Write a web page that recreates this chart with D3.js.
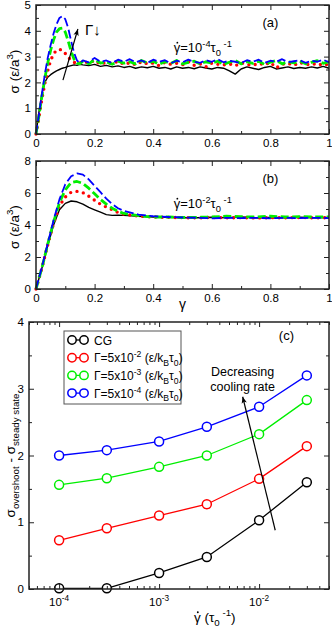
<!DOCTYPE html>
<html>
<head>
<meta charset="utf-8">
<title>Stress overshoot</title>
<script src="https://d3js.org/d3.v7.min.js"></script>
<style>
  body { margin: 0; background: #fff; }
  text { font-family: 'Liberation Sans', Arial, sans-serif; fill: #000; }
</style>
</head>
<body>
<script>
'use strict'
// panel (a): shear rate 1e-4, strain grid and stress curves
const strainA = [0, 0.01, 0.02, 0.03, 0.04, 0.05, 0.06, 0.07, 0.08, 0.09, 0.10, 0.11, 0.12, 0.13, 0.14, 0.15, 0.16,
  0.18, 0.20, 0.22, 0.24, 0.26, 0.28, 0.30, 0.32, 0.34, 0.36, 0.38, 0.40, 0.42, 0.44, 0.46, 0.48, 0.50,
  0.52, 0.54, 0.56, 0.58, 0.60, 0.62, 0.64, 0.66, 0.68, 0.70, 0.72, 0.74, 0.76, 0.78, 0.80, 0.82, 0.84,
  0.86, 0.88, 0.90, 0.92, 0.94, 0.96, 0.98, 1.00]
const cgA = [0, 0.85, 1.55, 2.0, 2.2, 2.3, 2.38, 2.45, 2.5, 2.55, 2.58, 2.62, 2.65, 2.68, 2.66, 2.7, 2.68,
  2.65, 2.7, 2.62, 2.66, 2.6, 2.64, 2.58, 2.62, 2.55, 2.6, 2.57, 2.62, 2.55, 2.58, 2.52, 2.6, 2.55,
  2.58, 2.53, 2.6, 2.56, 2.52, 2.58, 2.55, 2.45, 2.32, 2.52, 2.6, 2.55, 2.5, 2.58, 2.62, 2.52, 2.56,
  2.6, 2.54, 2.58, 2.55, 2.6, 2.56, 2.62, 2.55]
const g2A = [0, 0.65, 1.35, 1.95, 2.45, 2.85, 3.1, 3.25, 3.28, 3.25, 3.12, 2.98, 2.85, 2.78, 2.72, 2.75, 2.82,
  2.75, 2.85, 2.7, 2.78, 2.72, 2.82, 2.7, 2.76, 2.68, 2.8, 2.72, 2.75, 2.65, 2.78, 2.7, 2.74, 2.68,
  2.8, 2.66, 2.72, 2.6, 2.75, 2.7, 2.68, 2.72, 2.64, 2.76, 2.7, 2.66, 2.74, 2.68, 2.78, 2.56, 2.7,
  2.74, 2.66, 2.78, 2.7, 2.68, 2.74, 2.65, 2.72]
const g3A = [0, 0.7, 1.45, 2.15, 2.75, 3.25, 3.65, 3.95, 4.08, 4.1, 3.95, 3.6, 3.2, 2.9, 2.75, 2.72, 2.82,
  2.72, 2.88, 2.75, 2.8, 2.7, 2.82, 2.75, 2.8, 2.72, 2.85, 2.76, 2.82, 2.7, 2.8, 2.74, 2.85, 2.72,
  2.78, 2.82, 2.72, 2.8, 2.75, 2.82, 2.7, 2.78, 2.85, 2.72, 2.8, 2.74, 2.82, 2.7, 2.78, 2.85, 2.72,
  2.8, 2.76, 2.82, 2.72, 2.78, 2.84, 2.74, 2.8]
const g4A = [0, 0.75, 1.55, 2.3, 2.95, 3.45, 3.9, 4.25, 4.5, 4.57, 4.45, 4.1, 3.6, 3.15, 2.85, 2.75, 2.85,
  2.78, 2.95, 2.8, 2.85, 2.75, 2.88, 2.8, 2.9, 2.78, 2.85, 2.75, 2.88, 2.8, 2.86, 2.74, 2.84, 2.78,
  2.88, 2.8, 2.76, 2.86, 2.8, 2.9, 2.78, 2.84, 2.8, 2.75, 2.86, 2.8, 2.88, 2.76, 2.84, 2.8, 2.9,
  2.78, 2.82, 2.86, 2.76, 2.84, 2.8, 2.88, 2.78]

// panel (b): shear rate 1e-2
const strainB = [0, 0.02, 0.04, 0.06, 0.08, 0.10, 0.12, 0.14, 0.16, 0.18, 0.20, 0.22, 0.24, 0.26, 0.28, 0.30,
  0.35, 0.40, 0.45, 0.50, 0.55, 0.60, 0.65, 0.70, 0.75, 0.80, 0.85, 0.90, 0.95, 1.00]
const cgB = [0, 1.3, 2.7, 4.0, 4.95, 5.35, 5.5, 5.45, 5.3, 5.1, 4.95, 4.8, 4.65, 4.6, 4.62, 4.6,
  4.55, 4.5, 4.48, 4.45, 4.45, 4.48, 4.45, 4.5, 4.45, 4.47, 4.45, 4.48, 4.45, 4.47]
const g2B = [0, 1.3, 2.75, 4.1, 5.2, 5.75, 6.05, 6.1, 6.02, 5.8, 5.55, 5.3, 5.12, 4.95, 4.78, 4.68,
  4.55, 4.5, 4.48, 4.46, 4.45, 4.47, 4.45, 4.46, 4.44, 4.46, 4.45, 4.47, 4.45, 4.46]
const g3B = [0, 1.3, 2.8, 4.2, 5.4, 6.2, 6.65, 6.72, 6.6, 6.3, 5.95, 5.6, 5.3, 5.05, 4.85, 4.72,
  4.58, 4.5, 4.5, 4.47, 4.48, 4.5, 4.55, 4.52, 4.5, 4.55, 4.5, 4.52, 4.5, 4.5]
const g4B = [0, 1.35, 2.85, 4.3, 5.6, 6.55, 7.05, 7.22, 7.15, 6.85, 6.45, 6.05, 5.65, 5.3, 5.05, 4.88,
  4.65, 4.55, 4.5, 4.47, 4.45, 4.42, 4.45, 4.43, 4.45, 4.42, 4.45, 4.43, 4.45, 4.43]

// panel (c): overshoot height vs shear rate
const rates = [1e-4, 3e-4, 1e-3, 3e-3, 1e-2, 3e-2]
const overCG = [0.01, 0.01, 0.24, 0.48, 1.03, 1.60]
const over2 = [0.73, 0.91, 1.10, 1.27, 1.65, 2.14]
const over3 = [1.56, 1.66, 1.83, 2.00, 2.32, 2.83]
const over4 = [2.00, 2.08, 2.21, 2.43, 2.73, 3.20]
const legendLabels = ['CG', '5', '5', '5']
const legendExp = ['', '-2', '-3', '-4']
const decades = [1e-4, 1e-3, 1e-2]
const decadeExp = ['-4', '-3', '-2']

// annotation arrows in data units
const arrowA = [[0.092, 2.09], [0.143, 4.07]]
const arrowC = [[0.0145, 0.88], [0.00685, 2.88]]

const colors = ['#000000', '#ff0000', '#00ee00', '#0000ff']

const svg = d3.select('body').append('svg')
  .attr('width', 332)
  .attr('height', 629)

svg.append('rect').attr('width', 332).attr('height', 629).attr('fill', '#fff')

const defs = svg.append('defs')
defs.append('marker')
  .attr('id', 'head')
  .attr('viewBox', '-10 -5 12 10')
  .attr('markerWidth', 10).attr('markerHeight', 10)
  .attr('markerUnits', 'userSpaceOnUse')
  .attr('orient', 'auto')
  .append('path')
  .attr('d', 'M0,0 L-8,-3.2 L-6,0 L-8,3.2 Z')
  .attr('fill', '#000')

/**
 * richText
 * Append tspans with super/subscripts to a text selection.
 */
function richText(sel, parts, size)
{
  let shift = 0
  parts.forEach(function(p) {
    const kind = p[1] || ''
    const target = kind === 'sup' ? -0.42 : kind === 'sub' ? 0.32 : 0
    sel.append('tspan')
      .attr('dy', ((target - shift) * size).toFixed(2))
      .attr('font-size', kind ? size * 0.72 : size)
      .text(p[0])
    shift = target
  })
  return sel
}

/**
 * gammaDot
 * Put the time-derivative dot over the first glyph (a gamma) of a text.
 */
function gammaDot(sel, size)
{
  const p = sel.node().getStartPositionOfChar(0)
  svg.append('circle')
    .attr('cx', p.x + 0.28 * size)
    .attr('cy', p.y - 0.72 * size)
    .attr('r', size * 0.07)
    .attr('fill', '#000')
}

/**
 * frameAxes
 * Inward ticks on all four sides, major + minor.
 */
function frameAxes(g, x, y, box, xMajor, xMinor, yMajor, yMinor, xFmt, yFmt)
{
  const sides = [
    ['bottom', box.bottom, xFmt],
    ['top', box.top, null],
    ['left', box.left, yFmt],
    ['right', box.right, null]
  ]
  const make = {bottom: d3.axisBottom, top: d3.axisTop, left: d3.axisLeft, right: d3.axisRight}
  sides.forEach(function(s) {
    const isX = s[0] === 'bottom' || s[0] === 'top'
    const scale = isX ? x : y
    const pos = isX ? 'translate(0,' + s[1] + ')' : 'translate(' + s[1] + ',0)'
    const major = make[s[0]](scale).tickValues(isX ? xMajor : yMajor)
      .tickSize(-5).tickPadding(5).tickFormat(s[2] || '')
    const ga = g.append('g').attr('transform', pos).call(major)
    ga.select('.domain').remove()
    ga.attr('font-size', 11.5).attr('font-family', null)
    const minor = make[s[0]](scale).tickValues(isX ? xMinor : yMinor).tickSize(-3).tickFormat('')
    const gm = g.append('g').attr('transform', pos).call(minor)
    gm.select('.domain').remove()
  })
  g.selectAll('.tick line').attr('stroke', '#222').attr('stroke-width', 1)
  g.append('rect')
    .attr('x', box.left).attr('y', box.top)
    .attr('width', box.right - box.left).attr('height', box.bottom - box.top)
    .attr('fill', 'none').attr('stroke', '#222').attr('stroke-width', 1.5)
}

const lineStyles = [
  {dash: null, width: 1.4, cap: 'butt'},
  {dash: '0 6.5', width: 3.4, cap: 'round'},
  {dash: '8 3.5', width: 2.8, cap: 'butt'},
  {dash: '9 3.5', width: 1.8, cap: 'butt'}
]

/**
 * drawStress
 * Stress-strain panel (a) or (b).
 */
function drawStress(box, strain, series, yMax, yMajor, yMinor, tag, rateExp)
{
  const g = svg.append('g')
  const x = d3.scaleLinear().domain([0, 1]).range([box.left, box.right])
  const y = d3.scaleLinear().domain([0, yMax]).range([box.bottom, box.top])
  const line = d3.line()
    .x(function(d, i) { return x(strain[i]) })
    .y(function(d) { return y(d) })

  series.forEach(function(s, k) {
    const st = lineStyles[k]
    g.append('path')
      .datum(s)
      .attr('d', line)
      .attr('fill', 'none')
      .attr('stroke', colors[k])
      .attr('stroke-width', st.width)
      .attr('stroke-linecap', st.cap)
      .attr('stroke-linejoin', 'round')
      .attr('stroke-dasharray', st.dash)
  })

  frameAxes(g, x, y, box,
    [0, 0.2, 0.4, 0.6, 0.8, 1], [0.1, 0.3, 0.5, 0.7, 0.9],
    yMajor, yMinor, d3.format('~g'), d3.format('d'))

  g.append('text')
    .attr('x', x(0.8)).attr('y', box.top + 22)
    .attr('text-anchor', 'middle').attr('font-size', 13)
    .text(tag)

  const ann = richText(g.append('text').attr('x', x(0.47)).attr('y', box.top + 47),
    [['γ=10'], [rateExp, 'sup'], ['τ'], ['0', 'sub'], [' -1', 'sup']], 13)
  gammaDot(ann, 13)

  g.append('text')
    .attr('transform', 'translate(19,' + ((box.top + box.bottom) / 2 + 2) + ') rotate(-90)')
    .attr('text-anchor', 'middle')
    .call(function(t) { richText(t, [['σ (ε/a'], ['3', 'sup'], [')']], 13.5) })

  return {x: x, y: y, g: g}
}

const boxA = {left: 36, right: 329, top: 5, bottom: 134}
const boxB = {left: 36, right: 329, top: 161, bottom: 289}
const pa = drawStress(boxA, strainA, [cgA, g2A, g3A, g4A], 5, [0, 1, 2, 3, 4, 5], [0.5, 1.5, 2.5, 3.5, 4.5], '(a)', '-4')
const pb = drawStress(boxB, strainB, [cgB, g2B, g3B, g4B], 8, [0, 2, 4, 6, 8], [1, 3, 5, 7], '(b)', '-2')

pa.g.append('line')
  .attr('x1', pa.x(arrowA[0][0])).attr('y1', pa.y(arrowA[0][1]))
  .attr('x2', pa.x(arrowA[1][0])).attr('y2', pa.y(arrowA[1][1]))
  .attr('stroke', '#000').attr('stroke-width', 1.2)
  .attr('marker-end', 'url(#head)')
pa.g.append('text')
  .attr('x', pa.x(arrowA[1][0]) + 7).attr('y', pa.y(arrowA[1][1]) + 6)
  .attr('font-family', "'Liberation Serif', serif").attr('font-size', 15)
  .text('Γ↓')

svg.append('text')
  .attr('x', pb.x(0.5)).attr('y', 309)
  .attr('text-anchor', 'middle').attr('font-size', 14)
  .text('γ')

// panel (c)
const boxC = {left: 29, right: 329, top: 322, bottom: 589}
const gc = svg.append('g')
const xc = d3.scaleLog().domain([5e-5, 5e-2]).range([boxC.left, boxC.right])
const yc = d3.scaleLinear().domain([0, 4]).range([boxC.bottom, boxC.top])

const logMinor = []
;[1e-5, 1e-4, 1e-3, 1e-2].forEach(function(dec) {
  for (let m = 2; m <= 9; m++) {
    const v = m * dec
    if (v >= 5e-5 && v <= 5e-2) logMinor.push(v)
  }
})

const overs = [overCG, over2, over3, over4]
overs.forEach(function(s, k) {
  gc.append('path')
    .datum(s)
    .attr('d', d3.line().x(function(d, i) { return xc(rates[i]) }).y(function(d) { return yc(d) }))
    .attr('fill', 'none').attr('stroke', colors[k]).attr('stroke-width', 1.3)
})
overs.forEach(function(s, k) {
  gc.selectAll(null)
    .data(s)
    .enter().append('circle')
    .attr('cx', function(d, i) { return xc(rates[i]) })
    .attr('cy', function(d) { return yc(d) })
    .attr('r', 4.5)
    .attr('fill', '#fff').attr('stroke', colors[k]).attr('stroke-width', 1.5)
})

frameAxes(gc, xc, yc, boxC, decades, logMinor, [0, 1, 2, 3, 4], [0.5, 1.5, 2.5, 3.5],
  function() { return '' }, d3.format('d'))

decades.forEach(function(d, i) {
  richText(gc.append('text').attr('x', xc(d)).attr('y', 606).attr('text-anchor', 'middle'),
    [['10'], [decadeExp[i], 'sup']], 11.5)
})

gc.append('line')
  .attr('x1', xc(arrowC[0][0])).attr('y1', yc(arrowC[0][1]))
  .attr('x2', xc(arrowC[1][0])).attr('y2', yc(arrowC[1][1]))
  .attr('stroke', '#000').attr('stroke-width', 1.2)
  .attr('marker-end', 'url(#head)')
gc.append('text').attr('x', xc(arrowC[1][0])).attr('y', yc(arrowC[1][1]) - 21)
  .attr('text-anchor', 'middle').attr('font-size', 12.5).text('Decreasing')
gc.append('text').attr('x', xc(arrowC[1][0])).attr('y', yc(arrowC[1][1]) - 6)
  .attr('text-anchor', 'middle').attr('font-size', 12.5).text('cooling rate')

gc.append('text')
  .attr('x', xc(0.03) - 28).attr('y', boxC.top + 18)
  .attr('font-size', 13).text('(c)')

// legend
const lg = gc.append('g').attr('transform', 'translate(' + (boxC.left + 35) + ',' + (boxC.top + 9) + ')')
lg.append('rect').attr('width', 117).attr('height', 73)
  .attr('fill', '#fff').attr('stroke', '#555').attr('stroke-width', 1)
legendLabels.forEach(function(lab, k) {
  const yy = 9 + k * 17.7
  lg.append('line').attr('x1', 8).attr('x2', 20).attr('y1', yy).attr('y2', yy)
    .attr('stroke', colors[k]).attr('stroke-width', 1.3)
  ;[8, 20].forEach(function(cx) {
    lg.append('circle').attr('cx', cx).attr('cy', yy).attr('r', 4.2)
      .attr('fill', '#fff').attr('stroke', colors[k]).attr('stroke-width', 1.5)
  })
  const t = lg.append('text').attr('x', 30).attr('y', yy + 4.5)
  if (k === 0) richText(t, [['CG']], 12)
  else richText(t, [['Γ=' + lab + 'x10'], [legendExp[k], 'sup'], [' (ε/k'], ['B', 'sub'], ['τ'], ['0', 'sub'], [')']], 12)
})

// axis titles for (c)
svg.append('text')
  .attr('transform', 'translate(15,' + ((boxC.top + boxC.bottom) / 2) + ') rotate(-90)')
  .attr('text-anchor', 'middle')
  .call(function(t) { richText(t, [['σ'], ['overshoot', 'sub'], [' - σ'], ['steady state', 'sub']], 13.5) })

const xTitle = richText(svg.append('text').attr('x', xc(3e-3) + 8).attr('y', 622).attr('text-anchor', 'middle'),
  [['γ (τ'], ['0', 'sub'], [' -1', 'sup'], [')']], 13.5)
gammaDot(xTitle, 13.5)
</script>
</body>
</html>
